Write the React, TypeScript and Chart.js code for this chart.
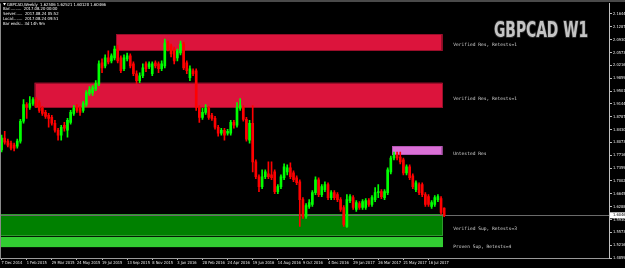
import React, { useEffect, useRef } from "react";
import { Chart, registerables } from "chart.js";
Chart.register(...registerables);

// Weekly GBPCAD candles from 7 Dec 2014 (index 0) to 20 Aug 2017 (index 141)
const opens = [
  1.7862, 1.8192, 1.8110, 1.8055, 1.8000, 1.7972, 1.8110, 1.8661, 1.9129, 1.9046,
  1.9156, 1.9267, 1.9184, 1.9019, 1.8908, 1.8826, 1.8771, 1.8606, 1.8413, 1.8275,
  1.8551, 1.8413, 1.8633, 1.8881, 1.9046, 1.9019, 1.8964, 1.9129, 1.9432, 1.9459,
  1.9570, 1.9707, 2.0286, 2.0203, 2.0424, 2.0341, 2.0424, 2.0672, 2.0424, 2.0121,
  2.0396, 2.0479, 2.0258, 1.9983, 1.9790, 1.9928, 2.0258, 2.0176, 1.9983, 2.0286,
  2.0258, 2.0121, 2.0203, 2.0837, 2.0754, 2.0672, 2.0424, 2.0561, 2.0809, 2.0286,
  1.9873, 2.0066, 2.0066, 1.9046, 1.8771, 1.8908, 1.9019, 1.8826, 1.8743, 1.8495,
  1.8330, 1.8413, 1.8330, 1.8330, 1.8633, 1.8551, 1.9019, 1.9046, 1.8716, 1.8137,
  1.8606, 1.7531, 1.7118, 1.6843, 1.7118, 1.7200, 1.7173, 1.7255, 1.6704, 1.6843,
  1.7090, 1.7255, 1.7366, 1.7228, 1.7090, 1.6980, 1.6484, 1.6016, 1.6291, 1.6346,
  1.6677, 1.7035, 1.6622, 1.6760, 1.6898, 1.6539, 1.6677, 1.6622, 1.6484, 1.6264,
  1.5740, 1.6457, 1.6539, 1.6209, 1.6374, 1.6264, 1.6264, 1.6457, 1.6346, 1.6484,
  1.6677, 1.6704, 1.6539, 1.6677, 1.7255, 1.7641, 1.7724, 1.7669, 1.7586, 1.7228,
  1.7393, 1.7145, 1.6760, 1.6898, 1.6898, 1.6622, 1.6567, 1.6291, 1.6346, 1.6484,
  1.6512, 1.62506,
];
const highs = [
  1.8275, 1.8385, 1.8165, 1.8110, 1.8055, 1.8165, 1.8716, 1.9267, 1.9184, 1.9349,
  1.9322, 1.9322, 1.9239, 1.9074, 1.8964, 1.8881, 1.8826, 1.8688, 1.8468, 1.8551,
  1.8633, 1.8743, 1.8964, 1.9101, 1.9129, 1.9074, 1.9212, 1.9515, 1.9625, 1.9652,
  1.9790, 2.0341, 2.0396, 2.0506, 2.0617, 2.0534, 2.0754, 2.0782, 2.0479, 2.0506,
  2.0561, 2.0534, 2.0314, 2.0066, 2.0010, 2.0258, 2.0314, 2.0314, 2.0314, 2.0341,
  2.0314, 2.0341, 2.0947, 2.0892, 2.0809, 2.0727, 2.0672, 2.0892, 2.0864, 2.0341,
  2.0203, 2.0121, 2.0121, 1.9101, 1.9019, 1.9129, 1.9074, 1.8881, 1.8798, 1.8551,
  1.8468, 1.8468, 1.8440, 1.8688, 1.8688, 1.9184, 1.9294, 1.9101, 1.8771, 1.8688,
  1.9101, 1.7586, 1.7173, 1.7311, 1.7311, 1.7531, 1.7531, 1.7311, 1.6898, 1.7173,
  1.7476, 1.7448, 1.7503, 1.7283, 1.7145, 1.7035, 1.6539, 1.6374, 1.6484, 1.6732,
  1.7118, 1.7090, 1.6898, 1.6980, 1.6953, 1.6732, 1.6732, 1.6677, 1.6539, 1.6319,
  1.6622, 1.6622, 1.6594, 1.6457, 1.6429, 1.6484, 1.6512, 1.6512, 1.6594, 1.6815,
  1.6898, 1.6760, 1.6760, 1.7366, 1.7696, 1.7807, 1.7807, 1.7807, 1.7641, 1.7448,
  1.7448, 1.7200, 1.7008, 1.6953, 1.6953, 1.6677, 1.6622, 1.6457, 1.6594, 1.6622,
  1.6567, 1.62521,
];
const lows = [
  1.7807, 1.8027, 1.7945, 1.7862, 1.7834, 1.7917, 1.8055, 1.8606, 1.8743, 1.8991,
  1.9101, 1.9046, 1.8908, 1.8826, 1.8743, 1.8495, 1.8551, 1.8358, 1.8137, 1.8137,
  1.8385, 1.8220, 1.8578, 1.8826, 1.8908, 1.8826, 1.8908, 1.9074, 1.9377, 1.9377,
  1.9515, 1.9652, 2.0010, 2.0148, 2.0258, 2.0286, 2.0369, 2.0286, 2.0010, 2.0066,
  2.0341, 2.0148, 1.9928, 1.9707, 1.9735, 1.9873, 2.0038, 2.0121, 1.9928, 2.0148,
  2.0010, 2.0066, 2.0148, 2.0617, 2.0451, 2.0258, 2.0341, 2.0506, 2.0093, 1.9983,
  1.9790, 1.9928, 1.8964, 1.8633, 1.8716, 1.8853, 1.8716, 1.8688, 1.8440, 1.8247,
  1.8275, 1.8137, 1.8275, 1.8275, 1.8468, 1.8495, 1.8964, 1.8661, 1.8110, 1.8055,
  1.7255, 1.7063, 1.6704, 1.6788, 1.7063, 1.7063, 1.7035, 1.6649, 1.6649, 1.6788,
  1.7035, 1.7173, 1.7063, 1.6980, 1.6898, 1.5740, 1.5961, 1.5961, 1.6236, 1.6291,
  1.6622, 1.6567, 1.6567, 1.6704, 1.6484, 1.6484, 1.6484, 1.6429, 1.6154, 1.5740,
  1.5713, 1.6401, 1.6209, 1.6154, 1.6209, 1.6209, 1.6209, 1.6291, 1.6291, 1.6429,
  1.6539, 1.6512, 1.6484, 1.6622, 1.7200, 1.7586, 1.7586, 1.7476, 1.7173, 1.7173,
  1.7035, 1.6788, 1.6704, 1.6622, 1.6567, 1.6291, 1.6291, 1.6236, 1.6291, 1.6429,
  1.6071, 1.60120,
];
const closes = [
  1.8192, 1.8082, 1.8000, 1.7917, 1.7917, 1.8110, 1.8661, 1.9129, 1.9046, 1.9156,
  1.9267, 1.9101, 1.8964, 1.8881, 1.8798, 1.8743, 1.8606, 1.8413, 1.8275, 1.8495,
  1.8468, 1.8688, 1.8908, 1.9019, 1.8964, 1.8908, 1.9156, 1.9459, 1.9542, 1.9597,
  1.9707, 2.0258, 2.0148, 2.0424, 2.0314, 2.0479, 2.0672, 2.0341, 2.0066, 2.0424,
  2.0479, 2.0203, 1.9983, 1.9790, 1.9928, 2.0148, 2.0121, 2.0258, 2.0258, 2.0203,
  2.0121, 2.0258, 2.0837, 2.0672, 2.0534, 2.0341, 2.0617, 2.0809, 2.0148, 2.0066,
  2.0121, 1.9983, 1.9046, 1.8771, 1.8908, 1.9019, 1.8771, 1.8743, 1.8495, 1.8330,
  1.8413, 1.8275, 1.8385, 1.8633, 1.8551, 1.9046, 1.9101, 1.8716, 1.8165, 1.8606,
  1.7531, 1.7118, 1.6843, 1.7118, 1.7255, 1.7118, 1.7090, 1.6704, 1.6843, 1.7118,
  1.7393, 1.7366, 1.7118, 1.7035, 1.6953, 1.6484, 1.6016, 1.6319, 1.6401, 1.6677,
  1.7035, 1.6622, 1.6843, 1.6898, 1.6539, 1.6677, 1.6539, 1.6484, 1.6209, 1.5795,
  1.6484, 1.6567, 1.6264, 1.6401, 1.6264, 1.6429, 1.6457, 1.6346, 1.6539, 1.6677,
  1.6704, 1.6567, 1.6704, 1.7311, 1.7641, 1.7724, 1.7641, 1.7531, 1.7228, 1.7393,
  1.7090, 1.6843, 1.6953, 1.6677, 1.6622, 1.6346, 1.6346, 1.6401, 1.6539, 1.6567,
  1.6126, 1.60466,
];

const totalWeeks = 194; // visible weekly slots incl. right-hand shift
const xTickStep = 8;
const xTickLabels = [
  "7 Dec 2014", "1 Feb 2015", "29 Mar 2015", "24 May 2015", "19 Jul 2015", "13 Sep 2015",
  "8 Nov 2015", "3 Jan 2016", "28 Feb 2016", "24 Apr 2016", "19 Jun 2016", "14 Aug 2016",
  "9 Oct 2016", "4 Dec 2016", "29 Jan 2017", "26 Mar 2017", "21 May 2017", "16 Jul 2017",
];
const yTicks = [
  2.16445, 2.12874, 2.09303, 2.05732, 2.02161, 1.9859, 1.95019, 1.91448, 1.87877, 1.84306,
  1.80735, 1.77164, 1.73593, 1.70022, 1.66451, 1.6288, 1.59309, 1.55738, 1.52167, 1.48596,
];
const yMin = 1.48596;
const yMax = 2.1939;

const zoneNames = [
  "Verified Res, Retests=1",
  "Verified Res, Retests=1",
  "Untested Res",
  "Verified Sup, Retests=3",
  "Proven Sup, Retests=4",
];
const zoneTops = [2.1085, 1.9735, 1.7972, 1.6071, 1.5437];
const zoneBottoms = [2.0617, 1.9046, 1.7724, 1.5465, 1.5162];
const zoneStarts = [36.5, 10.5, 124.5, -1, -1];
const zoneEnd = 140.5;
const zoneLabelPrices = [2.0782, 1.9294, 1.7752, 1.5675, 1.5185];
const zoneLabelIndex = 143.9;
const zoneFills = ["#DC143C", "#DC143C", "#DA70D6", "#008000", "#32CD32"];
const zoneEdges = ["#9A0E2A", "#9A0E2A", "#B455B4", "#2E9A2E", "#32CD32"];

const currentPrice = 1.60466;
const titleText = "GBPCAD W1";
const infoLines = [
  "GBPCAD,Weekly  1.62506 1.62521 1.60120 1.60466",
  "Bar:.........  2017.08.20 00:00",
  "Server:.....  2017.08.24 05:52",
  "Local:.......  2017.08.24 09:51",
  "Bar ends:.. 3d 14h 9m",
];

const NARROW = '"Liberation Sans Narrow", "DejaVu Sans Condensed", "Roboto", sans-serif';
const MONO = '"DejaVu Sans Mono", "Liberation Mono", monospace';
const HEAVY = '"DejaVu Sans Condensed", "DejaVu Sans", sans-serif';

const mtPlugin = {
  id: "mtDecor",
  beforeDraw(chart: any) {
    const ctx = chart.ctx;
    ctx.save();
    ctx.fillStyle = "#000000";
    ctx.fillRect(0, 0, chart.width, chart.height);
    ctx.restore();
  },
  beforeDatasetsDraw(chart: any) {
    const { ctx, chartArea: a, scales } = chart;
    const x = scales.x;
    const y = scales.y;
    ctx.save();
    ctx.beginPath();
    ctx.rect(a.left, a.top, a.right - a.left, a.bottom - a.top);
    ctx.clip();
    for (let i = 0; i < zoneNames.length; i++) {
      const x0 = zoneStarts[i] < 0 ? a.left : x.getPixelForValue(zoneStarts[i]);
      const x1 = x.getPixelForValue(zoneEnd);
      const y0 = y.getPixelForValue(zoneTops[i]);
      const y1 = y.getPixelForValue(zoneBottoms[i]);
      ctx.fillStyle = zoneFills[i];
      ctx.fillRect(x0, y0, x1 - x0, y1 - y0);
      ctx.strokeStyle = zoneEdges[i];
      ctx.lineWidth = 1;
      ctx.strokeRect(Math.round(x0) + 0.5, Math.round(y0) + 0.5, Math.round(x1 - x0) - 1, Math.round(y1 - y0) - 1);
    }
    const py = Math.round(y.getPixelForValue(currentPrice)) + 0.5;
    ctx.strokeStyle = "#6a6a6a";
    ctx.lineWidth = 1;
    ctx.beginPath();
    ctx.moveTo(a.left, py);
    ctx.lineTo(a.right, py);
    ctx.stroke();
    ctx.restore();
  },
  afterDraw(chart: any) {
    const { ctx, chartArea: a, scales } = chart;
    const x = scales.x;
    const y = scales.y;
    ctx.save();
    // frame
    ctx.fillStyle = "#4a4a4a";
    ctx.fillRect(0, 0, chart.width, 2);
    ctx.strokeStyle = "#8a8a8a";
    ctx.lineWidth = 1;
    ctx.beginPath();
    ctx.moveTo(a.left + 0.5, a.top);
    ctx.lineTo(a.left + 0.5, a.bottom);
    ctx.stroke();

    // zone labels
    ctx.fillStyle = "#d0d0d0";
    ctx.font = `4.6px ${MONO}`;
    ctx.textAlign = "left";
    ctx.textBaseline = "middle";
    const lx = x.getPixelForValue(zoneLabelIndex);
    for (let i = 0; i < zoneNames.length; i++) {
      ctx.fillText(zoneNames[i], lx, y.getPixelForValue(zoneLabelPrices[i]));
    }

    // info text
    ctx.fillStyle = "#ffffff";
    ctx.font = `4.2px ${NARROW}`;
    ctx.textBaseline = "middle";
    ctx.beginPath();
    ctx.moveTo(3, 3);
    ctx.lineTo(6, 3);
    ctx.lineTo(4.5, 5.5);
    ctx.closePath();
    ctx.fill();
    infoLines.forEach((line, i) => {
      ctx.fillText(line, i === 0 ? 7 : 3, 4.5 + i * 4.8);
    });

    // title
    ctx.font = `bold 21px ${HEAVY}`;
    ctx.textBaseline = "alphabetic";
    const w = ctx.measureText(titleText).width;
    const sx = 94 / w;
    ctx.translate(494, 37);
    ctx.scale(sx, 1);
    ctx.lineJoin = "round";
    ctx.lineWidth = 2;
    ctx.strokeStyle = "#2a2a2a";
    ctx.strokeText(titleText, 0, 0);
    ctx.fillStyle = "#c4c4c4";
    ctx.fillText(titleText, 0, 0);
    ctx.setTransform(1, 0, 0, 1, 0, 0);

    // current price box
    const py = y.getPixelForValue(currentPrice);
    ctx.fillStyle = "#ffffff";
    ctx.fillRect(a.right + 1, py - 3, chart.width - a.right - 1, 6);
    ctx.fillStyle = "#000000";
    ctx.font = `4px ${NARROW}`;
    ctx.textBaseline = "middle";
    ctx.textAlign = "left";
    ctx.fillText(currentPrice.toFixed(5), a.right + 4, py);
    ctx.restore();
  },
};

export default function App() {
  const ref = useRef<HTMLCanvasElement | null>(null);
  useEffect(() => {
    document.body.style.margin = "0";
    document.body.style.background = "#000";
    document.body.style.overflow = "hidden";
    const canvas = ref.current;
    if (!canvas) return;
    const labels = Array.from({ length: totalWeeks }, (_, i) => i);
    const colors = opens.map((o, i) => (closes[i] >= o ? "#00FF00" : "#FF0000"));
    const chart = new Chart(canvas, {
      type: "bar",
      data: {
        labels,
        datasets: [
          {
            label: "body",
            data: opens.map((o, i) => [Math.min(o, closes[i]), Math.max(o, closes[i])]) as any,
            backgroundColor: colors,
            borderWidth: 0,
            barThickness: 2,
            minBarLength: 1,
            grouped: false,
          } as any,
          {
            label: "wick",
            data: lows.map((l, i) => [l, highs[i]]) as any,
            backgroundColor: colors,
            borderWidth: 0,
            barThickness: 1,
            grouped: false,
          } as any,
        ],
      },
      options: {
        responsive: false,
        devicePixelRatio: 1,
        animation: false,
        layout: { padding: { top: 2, left: 0, right: 0, bottom: 0 } },
        plugins: { legend: { display: false }, tooltip: { enabled: false } },
        scales: {
          x: {
            type: "category",
            offset: true,
            grid: { display: true, drawOnChartArea: false, offset: false, color: "#c0c0c0", tickLength: 2 },
            border: { display: true, color: "#9a9a9a" },
            afterBuildTicks: (scale: any) => {
              scale.ticks = scale.ticks.filter(
                (t: any) => t.value % xTickStep === 0 && t.value / xTickStep < xTickLabels.length
              );
            },
            afterFit: (scale: any) => {
              scale.height = 10;
            },
            ticks: {
              autoSkip: false,
              maxRotation: 0,
              minRotation: 0,
              align: "start",
              padding: 1,
              color: "#e8e8e8",
              font: { size: 4, family: NARROW },
              callback: (v: any) => xTickLabels[Number(v) / xTickStep] ?? "",
            },
          },
          y: {
            type: "linear",
            position: "right",
            min: yMin,
            max: yMax,
            grid: { display: true, drawOnChartArea: false, color: "#c0c0c0", tickLength: 3 },
            border: { display: true, color: "#c0c0c0" },
            afterBuildTicks: (scale: any) => {
              scale.ticks = yTicks.map((v) => ({ value: v }));
            },
            afterFit: (scale: any) => {
              scale.width = 16;
            },
            ticks: {
              autoSkip: false,
              padding: 1,
              color: "#e8e8e8",
              font: { size: 4, family: NARROW },
              callback: (v: any) => Number(v).toFixed(5),
            },
          },
        },
      } as any,
      plugins: [mtPlugin],
    });
    return () => chart.destroy();
  }, []);
  return <canvas ref={ref} width={625} height={268} style={{ display: "block" }} />;
}
